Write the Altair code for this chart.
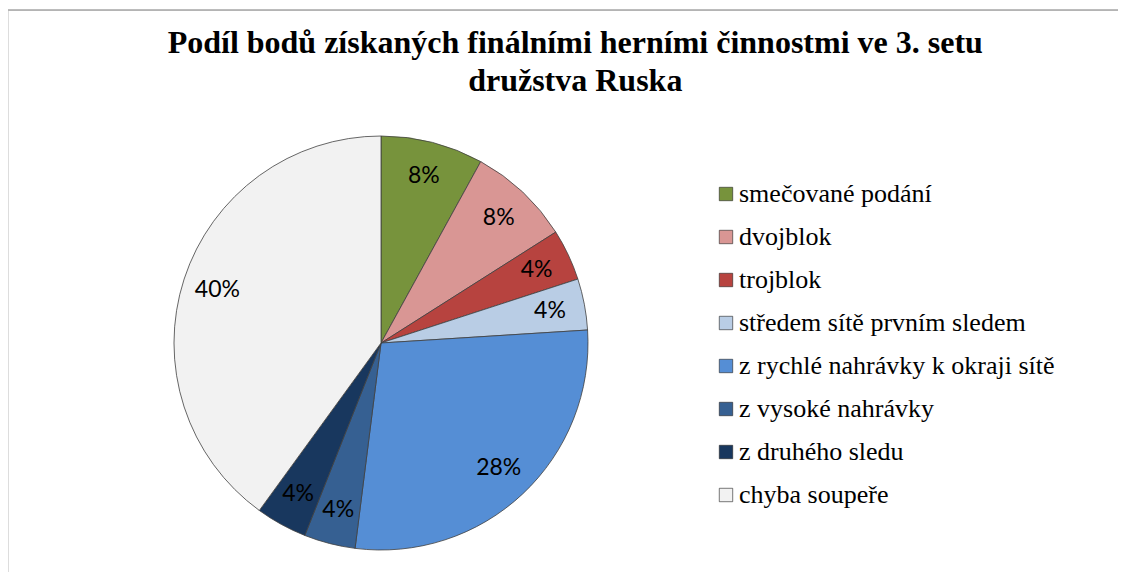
import altair as alt
import pandas as pd

categories = [
    "smečované podání",
    "dvojblok",
    "trojblok",
    "středem sítě prvním sledem",
    "z rychlé nahrávky k okraji sítě",
    "z vysoké nahrávky",
    "z druhého sledu",
    "chyba soupeře",
]
shares = [8, 8, 4, 4, 28, 4, 4, 40]
labels = ["8%", "8%", "4%", "4%", "28%", "4%", "4%", "40%"]
colors = ["#77933C", "#D99694", "#B7433F", "#B9CDE5", "#558ED5", "#366092", "#18375E", "#F2F2F2"]

df = pd.DataFrame({"cat": categories, "share": shares, "label": labels, "idx": list(range(len(categories)))})

title_lines = [
    "Podíl bodů získaných finálními herními činnostmi ve 3. setu",
    "družstva Ruska",
]

W, H = 1110, 570
cx, cy = 373, 333
R = 207

base = alt.Chart(df).encode(
    theta=alt.Theta("share:Q", stack=True),
    order=alt.Order("idx:O", sort="ascending"),
)

pie = base.mark_arc(
    outerRadius=R, stroke="#404040", strokeWidth=0.8, x=cx, y=cy
).encode(
    fill=alt.Fill(
        "cat:N",
        scale=alt.Scale(domain=categories, range=colors),
        sort=categories,
        legend=alt.Legend(
            title=None,
            orient="none",
            legendX=705,
            legendY=171,
            symbolType="square",
            symbolSize=180,
            symbolStrokeColor="#222222",
            symbolStrokeWidth=0.6,
            labelFont="Liberation Serif",
            labelFontSize=26,
            labelColor="#000000",
            rowPadding=17,
            labelOffset=0,
            labelLimit=600,
        ),
    )
)

text = base.mark_text(
    radius=172, font="Lato", fontSize=23, color="#000000", x=cx, y=cy
).encode(text="label:N")

frame = alt.Chart(pd.DataFrame({"z": [0]})).mark_rect(
    fillOpacity=0, stroke="#a6a6a6", strokeWidth=1.5
).encode(
    x=alt.value(-2), x2=alt.value(W + 40), y=alt.value(0), y2=alt.value(H + 40)
)

chart = (
    alt.layer(frame, pie, text)
    .properties(
        width=W,
        height=H,
        title=alt.TitleParams(
            text=title_lines,
            anchor="start",
            align="center",
            dx=570,
            offset=-89,
            font="Liberation Serif",
            fontSize=32,
            fontWeight="bold",
            color="#000000",
            lineHeight=38,
        ),
        padding={"top": 2, "left": 0, "right": 0, "bottom": 0},
        autosize=alt.AutoSizeParams(type="none"),
    )
    .configure_view(strokeWidth=0)
    .configure(background="#ffffff")
)

chart.save("out.html", embed_options={"renderer": "svg", "actions": False})
